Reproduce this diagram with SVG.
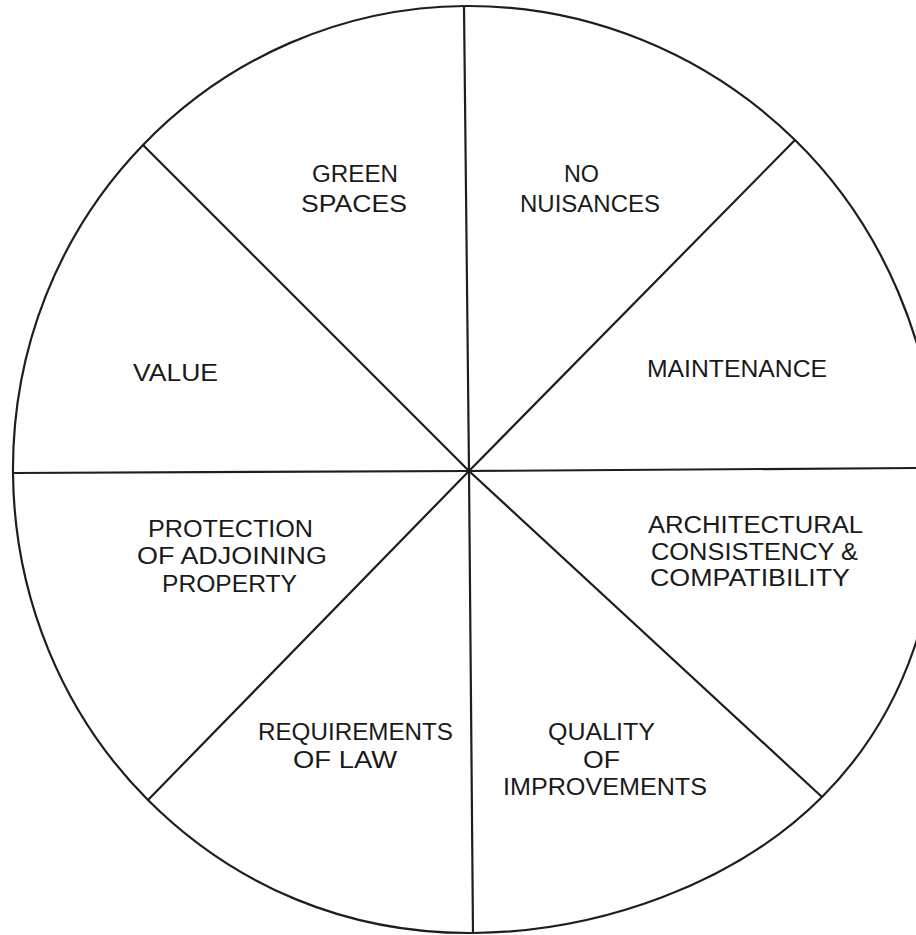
<svg xmlns="http://www.w3.org/2000/svg" width="916" height="935" viewBox="0 0 916 935">
  <style>
    .rim { fill: none; stroke: #1e1e1e; stroke-width: 2.2; }
    .spoke { fill: none; stroke: #1e1e1e; stroke-width: 2.2; stroke-linejoin: round; }
    .lbl { font-family: "Liberation Sans", "DejaVu Sans", sans-serif; font-size: 23px; fill: #1a1a1a; }
  </style>
  <rect width="916" height="935" fill="#ffffff"/>

  <!-- outer wheel, slightly irregular as drawn by hand -->
  <path class="rim" d="M465,6 C587,5 706,53 795,140 C884,227 933,347 938,470 C943,593 909,710 822,797 C735,884 599,932 473,933 C347,934 234,886 148,800 C62,714 14,596 13,473 C12,350 58,233 143,145 C228,57 343,7 465,6 Z"/>

  <!-- dividing spokes, all meeting at the hub -->
  <g id="connectors">
    <polyline class="spoke" points="464,6 469,471 473,933"/>
    <polyline class="spoke" points="13,473 469,471 916,468"/>
    <polyline class="spoke" points="143,145 469,471 822,797"/>
    <polyline class="spoke" points="795,140 469,471 148,800"/>
  </g>

  <g id="green-spaces">
    <text class="lbl" x="312" y="182" textLength="86" lengthAdjust="spacingAndGlyphs">GREEN</text>
    <text class="lbl" x="301" y="212" textLength="106" lengthAdjust="spacingAndGlyphs">SPACES</text>
  </g>
  <g id="no-nuisances">
    <text class="lbl" x="564" y="182" textLength="35" lengthAdjust="spacingAndGlyphs">NO</text>
    <text class="lbl" x="520" y="212" textLength="140" lengthAdjust="spacingAndGlyphs">NUISANCES</text>
  </g>
  <g id="maintenance">
    <text class="lbl" x="647" y="377" textLength="180" lengthAdjust="spacingAndGlyphs">MAINTENANCE</text>
  </g>
  <g id="architectural">
    <text class="lbl" x="648" y="533" textLength="215" lengthAdjust="spacingAndGlyphs">ARCHITECTURAL</text>
    <text class="lbl" x="651" y="560" textLength="207" lengthAdjust="spacingAndGlyphs">CONSISTENCY &amp;</text>
    <text class="lbl" x="650" y="586" textLength="200" lengthAdjust="spacingAndGlyphs">COMPATIBILITY</text>
  </g>
  <g id="quality">
    <text class="lbl" x="548" y="740" textLength="107" lengthAdjust="spacingAndGlyphs">QUALITY</text>
    <text class="lbl" x="583" y="768" textLength="37" lengthAdjust="spacingAndGlyphs">OF</text>
    <text class="lbl" x="503" y="795" textLength="204" lengthAdjust="spacingAndGlyphs">IMPROVEMENTS</text>
  </g>
  <g id="requirements">
    <text class="lbl" x="258" y="740" textLength="195" lengthAdjust="spacingAndGlyphs">REQUIREMENTS</text>
    <text class="lbl" x="293" y="768" textLength="104" lengthAdjust="spacingAndGlyphs">OF LAW</text>
  </g>
  <g id="protection">
    <text class="lbl" x="148" y="537" textLength="165" lengthAdjust="spacingAndGlyphs">PROTECTION</text>
    <text class="lbl" x="137" y="564" textLength="190" lengthAdjust="spacingAndGlyphs">OF ADJOINING</text>
    <text class="lbl" x="162" y="592" textLength="135" lengthAdjust="spacingAndGlyphs">PROPERTY</text>
  </g>
  <g id="value">
    <text class="lbl" x="133" y="381" textLength="85" lengthAdjust="spacingAndGlyphs">VALUE</text>
  </g>
</svg>
